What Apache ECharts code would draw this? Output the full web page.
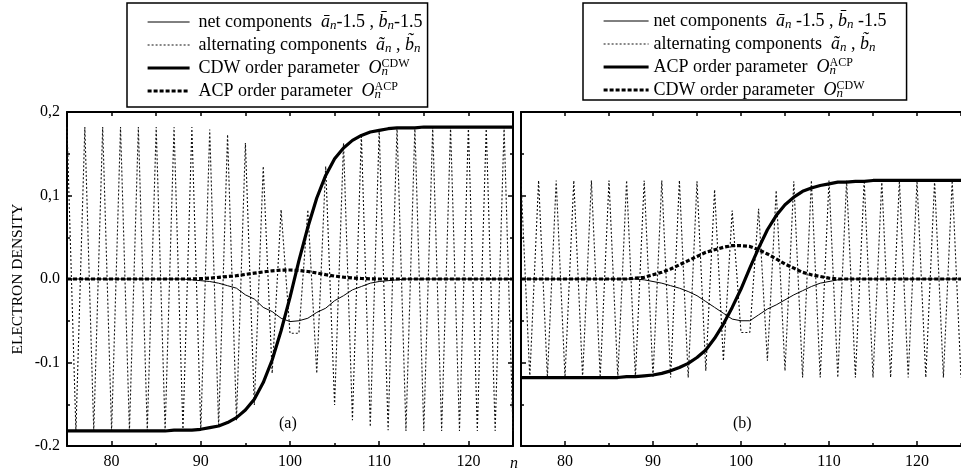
<!DOCTYPE html>
<html>
<head>
<meta charset="utf-8">
<script src="https://cdn.jsdelivr.net/npm/echarts@6.0.0/dist/echarts.min.js"></script>
<style>
html,body{margin:0;padding:0;background:#fff;}
#chart{width:961px;height:476px;}
</style>
</head>
<body>
<div id="chart"></div>
<script>
// site index n
const nValues = [75,76,77,78,79,80,81,82,83,84,85,86,87,88,89,90,91,92,93,94,95,96,97,98,99,100,
  101,102,103,104,105,106,107,108,109,110,111,112,113,114,115,116,117,118,119,120,121,122,123,124,125];

// Panel (a)
const cdwA = [-0.182,-0.182,-0.182,-0.182,-0.182,-0.182,-0.182,-0.182,-0.182,-0.182,-0.182,-0.182,
  -0.181,-0.181,-0.181,-0.180,-0.178,-0.176,-0.172,-0.166,-0.157,-0.144,-0.124,-0.097,-0.062,-0.022,
  0.022,0.062,0.097,0.124,0.144,0.157,0.166,0.172,0.176,0.178,0.180,0.181,0.181,0.181,
  0.182,0.182,0.182,0.182,0.182,0.182,0.182,0.182,0.182,0.182,0.182];
const altA = [0.182,-0.182,0.182,-0.182,0.182,-0.182,0.182,-0.182,0.182,-0.182,0.182,-0.182,0.182,-0.182,0.182,
  -0.181,0.179,-0.177,0.173,-0.169,0.163,-0.151,0.135,-0.113,0.083,-0.065,-0.065,0.083,-0.113,0.135,-0.151,
  0.163,-0.169,0.173,-0.177,0.179,-0.181,0.182,-0.182,0.182,-0.182,0.182,-0.182,0.182,-0.182,0.182,-0.182,
  0.182,-0.182,0.182,-0.182];
const netA = [0,0,0,0,0,0,0,0,0,0,0,0,0,0,
  -0.001,-0.002,-0.003,-0.005,-0.008,-0.011,-0.019,-0.024,-0.034,-0.039,-0.047,-0.051,-0.050,-0.047,
  -0.040,-0.035,-0.026,-0.020,-0.013,-0.009,-0.005,-0.003,-0.002,-0.001,
  0,0,0,0,0,0,0,0,0,0,0,0,0];
const acpA = [0,0,0,0,0,0,0,0,0,0,0,0,0,0,0,
  0.0005,0.001,0.002,0.003,0.004,0.0055,0.007,0.0085,0.0098,0.0106,0.0108,0.0102,0.009,0.0072,0.0052,
  0.0035,0.0022,0.0012,0.0006,0.0002,
  0,0,0,0,0,0,0,0,0,0,0,0,0,0,0,0];

// Panel (b)
const acpB = [-0.118,-0.118,-0.118,-0.118,-0.118,-0.118,-0.118,-0.118,-0.118,-0.118,-0.118,-0.118,
  -0.117,-0.117,-0.116,-0.115,-0.113,-0.110,-0.106,-0.101,-0.094,-0.085,-0.071,-0.054,-0.034,-0.012,
  0.013,0.037,0.059,0.076,0.089,0.098,0.105,0.109,0.112,0.114,0.116,0.116,0.117,0.117,
  0.118,0.118,0.118,0.118,0.118,0.118,0.118,0.118,0.118,0.118,0.118];
const altB = [0.118,-0.118,0.118,-0.118,0.118,-0.118,0.118,-0.118,0.118,-0.118,
  0.118,-0.118,0.118,-0.118,0.118,-0.118,0.118,-0.118,0.118,-0.118,
  0.117,-0.110,0.107,-0.098,0.082,-0.064,-0.064,0.084,-0.098,0.106,-0.110,0.117,
  -0.118,0.118,-0.118,0.118,-0.118,0.118,-0.118,0.118,-0.118,0.118,-0.118,0.118,-0.118,0.118,-0.118,
  0.118,-0.118,0.118,-0.118];
const netB = [0,0,0,0,0,0,0,0,0,0,0,0,0,0,
  -0.001,-0.003,-0.005,-0.008,-0.011,-0.015,-0.020,-0.027,-0.034,-0.041,-0.048,-0.050,-0.050,-0.043,
  -0.036,-0.031,-0.025,-0.019,-0.014,-0.009,-0.005,-0.003,-0.001,
  0,0,0,0,0,0,0,0,0,0,0,0,0,0];
const cdwB = [0,0,0,0,0,0,0,0,0,0,0,0,0,
  0.001,0.002,0.005,0.008,0.012,0.017,0.022,0.027,0.032,0.035,0.038,0.040,0.040,0.039,0.035,0.030,
  0.024,0.018,0.013,0.008,0.005,0.003,0.001,
  0,0,0,0,0,0,0,0,0,0,0,0,0,0,0];

// tick labels
const xLabelValues = [80, 90, 100, 110, 120];
const yTickLabels = {'2': '0,2', '1': '0,1', '0': '0.0', '-1': '-0.1', '-2': '-0.2'};
const legendTexts = {
  a_net: 'net components  {i|ā}{sub|n}-1.5 , {i|b̄}{sub|n}-1.5',
  a_alt: 'alternating components  {i|ã}{sub|n} , {i|b̃}{sub|n}',
  a_cdw: 'CDW order parameter  {i|O}{subz|n}{sup|CDW}',
  a_acp: 'ACP order parameter  {i|O}{subz|n}{sup|ACP}',
  b_net: 'net components  {i|ā}{sub|n} -1.5 , {i|b̄}{sub|n} -1.5',
  b_alt: 'alternating components  {i|ã}{sub|n} , {i|b̃}{sub|n}',
  b_acp: 'ACP order parameter  {i|O}{subz|n}{sup|ACP}',
  b_cdw: 'CDW order parameter  {i|O}{subz|n}{sup|CDW}'
};

const FONT = 'Liberation Serif';
const pts = arr => nValues.map((n, i) => [n, arr[i]]);

const styleNet = {width: 1, type: 'solid', color: '#000'};
const styleAlt = {width: 1.1, type: [2, 2], color: '#111'};
const styleThick = {width: 3.2, type: 'solid', color: '#000'};
const styleDash = {width: 3.2, type: [4, 2], color: '#000'};

function mkSeries(name, arr, xi, yi, ls, z) {
  return {
    name: name, type: 'line', data: pts(arr), xAxisIndex: xi, yAxisIndex: yi,
    symbol: 'circle', showSymbol: false, symbolSize: 0, lineStyle: ls, itemStyle: {color: '#000'},
    z: z, silent: true, animation: false
  };
}

const richStyles = {
  i: {fontStyle: 'italic', fontFamily: FONT, fontSize: 18, color: '#000'},
  sub: {fontStyle: 'italic', fontFamily: FONT, fontSize: 13, verticalAlign: 'bottom', color: '#000'},
  subz: {fontStyle: 'italic', fontFamily: FONT, fontSize: 13, verticalAlign: 'bottom', width: 0, color: '#000'},
  sup: {fontFamily: FONT, fontSize: 12, verticalAlign: 'top', color: '#000'}
};

function mkLegend(left, names, styles, pad, iw, tpad) {
  return {
    left: left, top: 3, orient: 'vertical', selectedMode: false,
    padding: pad, borderColor: '#000', borderWidth: 1.5,
    itemWidth: iw, itemHeight: 12, itemGap: 3,
    itemStyle: {opacity: 0},
    data: names.map((n, i) => ({name: n, lineStyle: styles[i]})),
    formatter: name => legendTexts[name],
    textStyle: {fontFamily: FONT, fontSize: 18, color: '#000', lineHeight: 20, padding: tpad, rich: richStyles}
  };
}

const axLine = {show: true, onZero: false, lineStyle: {color: '#000', width: 2}};
function xMain(grid) {
  return {type: 'value', gridIndex: grid, position: 'bottom', min: 75, max: 125,
    axisLine: axLine, splitLine: {show: false},
    axisTick: {show: true, inside: true, length: 5, customValues: xLabelValues, lineStyle: {color: '#000', width: 1.5}},
    axisLabel: {show: true, customValues: xLabelValues, margin: 8, fontFamily: FONT, fontSize: 16, color: '#000'}};
}
function xMinor(grid) {
  return {type: 'value', gridIndex: grid, position: 'bottom', min: 75, max: 125, interval: 5,
    axisLine: {show: false, onZero: false}, splitLine: {show: false},
    axisTick: {show: true, inside: true, length: 3, lineStyle: {color: '#000', width: 1.5}},
    axisLabel: {show: false}};
}
function xTop(grid) {
  return {type: 'value', gridIndex: grid, position: 'top', min: 75, max: 125, interval: 5,
    axisLine: axLine, splitLine: {show: false},
    axisTick: {show: true, inside: true, length: 4, lineStyle: {color: '#000', width: 1.5}},
    axisLabel: {show: false}};
}
function yAx(grid, pos, labels) {
  const o = {type: 'value', gridIndex: grid, position: pos, min: -0.2, max: 0.2, interval: 0.1,
    axisLine: axLine, splitLine: {show: false},
    axisTick: {show: true, inside: true, length: 5, lineStyle: {color: '#000', width: 1.5}},
    minorTick: {show: true, splitNumber: 2, length: 3, lineStyle: {color: '#000', width: 1.5}},
    axisLabel: {show: labels, margin: 7, fontFamily: FONT, fontSize: 16, color: '#000',
      formatter: v => yTickLabels[String(Math.round(v * 10))]}};
  if (labels) {
    o.name = 'ELECTRON DENSITY';
    o.nameLocation = 'middle';
    o.nameGap = 41;
    o.nameTextStyle = {fontFamily: FONT, fontSize: 15.5, color: '#000'};
  }
  return o;
}

const option = {
  backgroundColor: '#fff',
  animation: false,
  grid: [
    {left: 67, top: 112, width: 446, height: 334},
    {left: 521, top: 112, width: 447, height: 334}
  ],
  xAxis: [xMain(0), xMinor(0), xTop(0), xMain(1), xMinor(1), xTop(1)],
  yAxis: [yAx(0, 'left', true), yAx(0, 'right', false), yAx(1, 'left', false)],
  legend: [
    mkLegend(127, ['a_net', 'a_alt', 'a_cdw', 'a_acp'], [styleNet, styleAlt, styleThick, styleDash],
      [9, 5, 6, 19], 42, [0, 0, 0, 4]),
    mkLegend(583, ['b_net', 'b_alt', 'b_acp', 'b_cdw'], [styleNet, styleAlt, styleThick, styleDash],
      [8, 20, 0, 19], 45, [0, 0, 0, 0])
  ],
  series: [
    mkSeries('a_alt', altA, 0, 0, styleAlt, 2),
    mkSeries('a_net', netA, 0, 0, styleNet, 3),
    mkSeries('a_acp', acpA, 0, 0, styleDash, 4),
    mkSeries('a_cdw', cdwA, 0, 0, styleThick, 5),
    mkSeries('b_alt', altB, 3, 2, styleAlt, 2),
    mkSeries('b_net', netB, 3, 2, styleNet, 3),
    mkSeries('b_cdw', cdwB, 3, 2, styleDash, 4),
    mkSeries('b_acp', acpB, 3, 2, styleThick, 5)
  ],
  graphic: [
    {type: 'text', left: 279, top: 416, silent: true,
      style: {text: '(a)', fontFamily: FONT, fontSize: 16, fill: '#000'}},
    {type: 'text', left: 733, top: 416, silent: true,
      style: {text: '(b)', fontFamily: FONT, fontSize: 16, fill: '#000'}},
    {type: 'text', left: 510, top: 456, silent: true,
      style: {text: 'n', fontFamily: FONT, fontStyle: 'italic', fontSize: 16, fill: '#000'}}
  ]
};

const chart = echarts.init(document.getElementById('chart'), null, {renderer: 'canvas'});
chart.setOption(option);
</script>
</body>
</html>
